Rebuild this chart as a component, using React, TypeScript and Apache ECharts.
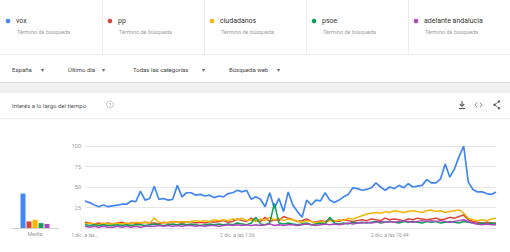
import React, { useEffect, useRef } from "react";
import * as echarts from "echarts";

const terms = ["vox", "pp", "ciudadanos", "psoe", "adelante andalucia"];
const colors = ["#4285f4", "#db4437", "#f4b400", "#0f9d58", "#ab47bc"];
const subLabel = "Término de búsqueda";
const filters = ["España", "Último día", "Todas las categorías", "Búsqueda web"];
const chartTitle = "Interés a lo largo del tiempo";
const xTickLabels = ["1 dic. a las...", "2 dic. a las 1:56", "2 dic. a las 10:44"];
const meanLabel = "Media";

const vox = [
  33, 31, 28, 26, 28, 26, 27, 28, 29, 29,
  33, 32, 45, 34, 36, 51, 35, 36, 34, 35,
  52, 38, 43, 43, 40, 41, 39, 40, 37, 39,
  38, 42, 43, 46, 44, 46, 35, 38, 35, 26,
  43, 24, 36, 20, 44, 28, 20, 13, 34, 28,
  34, 33, 43, 34, 31, 34, 38, 41, 49, 48,
  46, 47, 49, 55, 50, 46, 50, 48, 52, 49,
  54, 50, 51, 52, 59, 55, 55, 60, 78, 62,
  72, 87, 100, 56, 47, 44, 44, 42, 41, 44,
];
const pp = [
  7, 6, 5, 6, 5, 6, 5, 6, 7, 5, 6, 5, 6, 7, 6,
  6, 5, 7, 6, 8, 7, 6, 7, 8, 6, 7, 6, 8, 7, 8,
  9, 7, 8, 11, 9, 8, 12, 9, 8, 13, 8, 10, 9, 14, 12,
  10, 8, 9, 11, 8, 7, 9, 8, 10, 9, 8, 10, 9, 8, 9,
  10, 9, 11, 10, 9, 12, 10, 11, 10, 9, 11, 10, 12, 11, 10,
  11, 12, 10, 11, 13, 12, 14, 16, 10, 8, 7, 6, 7, 6, 6,
];
const ciudadanos = [
  5, 6, 5, 4, 6, 5, 5, 6, 5, 6, 5, 7, 6, 7, 6,
  12, 7, 6, 7, 8, 7, 8, 7, 8, 9, 8, 9, 8, 10, 9,
  10, 9, 11, 10, 12, 9, 10, 8, 11, 9, 13, 10, 12, 9, 11,
  10, 8, 7, 9, 8, 6, 8, 7, 9, 8, 10, 9, 12, 11, 13,
  15, 17, 18, 19, 18, 20, 19, 21, 20, 19, 20, 21, 20, 19, 21,
  22, 20, 21, 19, 20, 21, 22, 18, 12, 10, 9, 10, 9, 11, 12,
];
const psoe = [
  4, 3, 4, 3, 4, 3, 3, 4, 3, 4, 3, 4, 4, 3, 4,
  5, 4, 3, 4, 5, 4, 5, 4, 5, 4, 3, 4, 5, 4, 5,
  4, 5, 4, 6, 5, 4, 6, 13, 5, 4, 6, 30, 6, 5, 6,
  5, 4, 5, 6, 4, 5, 6, 5, 13, 6, 5, 6, 5, 7, 6,
  7, 6, 7, 8, 6, 7, 8, 7, 6, 8, 7, 8, 7, 6, 8,
  7, 8, 6, 7, 8, 7, 6, 8, 7, 6, 5, 6, 5, 6, 5,
];
const adelante = [
  2, 1, 2, 1, 2, 1, 1, 2, 1, 2, 1, 2, 1, 2, 2,
  2, 3, 2, 3, 2, 3, 2, 3, 3, 2, 3, 2, 3, 3, 2,
  3, 4, 3, 4, 3, 4, 3, 4, 3, 4, 5, 3, 4, 3, 4,
  4, 3, 4, 5, 4, 3, 4, 5, 4, 5, 4, 5, 6, 5, 6,
  6, 7, 6, 7, 8, 7, 8, 7, 8, 9, 8, 7, 8, 9, 8,
  9, 8, 9, 8, 7, 8, 9, 10, 8, 6, 5, 4, 5, 4, 4,
];
const means = [42, 8, 10, 6, 5];
const seriesData = [vox, pp, ciudadanos, psoe, adelante];

// time categories: 16-minute steps from 1 dic. 17:08
const times: string[] = [];
for (let i = 0; i < vox.length; i++) {
  const m = 17 * 60 + 8 + i * 16;
  const day = m >= 1440 ? 2 : 1;
  const mm = m % 1440;
  const h = Math.floor(mm / 60);
  const mi = mm % 60;
  times.push(`${day} dic. a las ${h}:${mi < 10 ? "0" + mi : mi}`);
}

const FONT = "Roboto, 'Noto Sans', sans-serif";

export default function App() {
  const ref = useRef<HTMLDivElement>(null);
  useEffect(() => {
    if (!ref.current) return;
    const chart = echarts.init(ref.current, null, { renderer: "svg" });
    const graphics: any[] = [];
    graphics.push({ type: "rect", shape: { x: 0, y: 83, width: 510, height: 10 }, style: { fill: "#f1f1f1" }, silent: true });
    graphics.push({ type: "line", shape: { x1: 0, y1: 82.5, x2: 510, y2: 82.5 }, style: { stroke: "#dcdcdc", lineWidth: 1 } });
    graphics.push({ type: "line", shape: { x1: 0, y1: 54.5, x2: 510, y2: 54.5 }, style: { stroke: "#ececec", lineWidth: 1 } });
    graphics.push({ type: "line", shape: { x1: 0, y1: 118.5, x2: 510, y2: 118.5 }, style: { stroke: "#f0f0f0", lineWidth: 1 } });
    [102, 204, 306, 408].forEach((x) => {
      graphics.push({ type: "line", shape: { x1: x + 0.5, y1: 0, x2: x + 0.5, y2: 54 }, style: { stroke: "#ececec", lineWidth: 1 } });
    });
    terms.forEach((t, k) => {
      const dx = 8 + k * 102;
      graphics.push({ type: "circle", shape: { cx: dx, cy: 21, r: 2.3 }, style: { fill: colors[k] } });
      graphics.push({ type: "text", x: dx + 8, y: 21, style: { text: t, fill: "#333", font: `7px ${FONT}`, verticalAlign: "middle" } });
      graphics.push({ type: "text", x: dx + 9, y: 32, style: { text: subLabel, fill: "#a0a0a0", font: `5.5px ${FONT}`, verticalAlign: "middle" } });
    });
    const fx = [12, 68, 133, 229];
    const ax = [42, 103, 203, 278];
    filters.forEach((f, k) => {
      graphics.push({ type: "text", x: fx[k], y: 69, style: { text: f, fill: "#444", font: `6px ${FONT}`, verticalAlign: "middle" } });
      graphics.push({ type: "text", x: ax[k], y: 69, style: { text: "▾", fill: "#666", font: `6px ${FONT}`, verticalAlign: "middle", align: "center" } });
    });
    graphics.push({ type: "text", x: 12, y: 105, style: { text: chartTitle, fill: "#555", font: `6px ${FONT}`, verticalAlign: "middle" } });
    graphics.push({ type: "circle", shape: { cx: 110, cy: 104.5, r: 3.4 }, style: { fill: "none", stroke: "#aaa", lineWidth: 0.7 } });
    graphics.push({ type: "text", x: 110, y: 104.8, style: { text: "?", fill: "#999", font: `5px ${FONT}`, verticalAlign: "middle", align: "center" } });
    graphics.push({ type: "line", shape: { x1: 462, y1: 101, x2: 462, y2: 106 }, style: { stroke: "#555", lineWidth: 1.1 } });
    graphics.push({ type: "polyline", shape: { points: [[459.8, 104], [462, 106.3], [464.2, 104]] }, style: { stroke: "#555", lineWidth: 1.1, fill: "none" } });
    graphics.push({ type: "line", shape: { x1: 459, y1: 108.5, x2: 465, y2: 108.5 }, style: { stroke: "#555", lineWidth: 1.1 } });
    graphics.push({ type: "polyline", shape: { points: [[477, 102.5], [475, 104.8], [477, 107]] }, style: { stroke: "#777", lineWidth: 0.9, fill: "none" } });
    graphics.push({ type: "polyline", shape: { points: [[480, 102.5], [482, 104.8], [480, 107]] }, style: { stroke: "#777", lineWidth: 0.9, fill: "none" } });
    graphics.push({ type: "polyline", shape: { points: [[499, 101.5], [494.5, 104.8], [499, 108.2]] }, style: { stroke: "#555", lineWidth: 0.8, fill: "none" } });
    [[499, 101.5], [494.5, 104.8], [499, 108.2]].forEach(([cx, cy]) => {
      graphics.push({ type: "circle", shape: { cx, cy, r: 1.2 }, style: { fill: "#555" } });
    });

    const series: any[] = [];
    terms.forEach((t, k) => {
      series.push({
        type: "bar",
        name: t,
        xAxisIndex: 0,
        yAxisIndex: 0,
        data: [means[k]],
        barWidth: 5,
        barGap: "20%",
        itemStyle: { color: colors[k] },
      });
    });
    terms.forEach((t, k) => {
      series.push({
        type: "line",
        name: t,
        xAxisIndex: 1,
        yAxisIndex: 1,
        data: seriesData[k],
        showSymbol: false,
        lineStyle: { color: colors[k], width: k === 0 ? 1.7 : 1.5 },
        itemStyle: { color: colors[k] },
      });
    });

    chart.setOption({
      animation: false,
      backgroundColor: "#ffffff",
      textStyle: { fontFamily: FONT },
      grid: [
        { left: 12, width: 46, top: 146, bottom: 24 },
        { left: 85, right: 14, top: 146, bottom: 24 },
      ],
      xAxis: [
        {
          gridIndex: 0,
          type: "category",
          data: [meanLabel],
          axisLine: { lineStyle: { color: "#d0d0d0" } },
          axisTick: { show: false },
          axisLabel: { fontSize: 5.5, color: "#999", margin: 3 },
        },
        {
          gridIndex: 1,
          type: "category",
          data: times,
          boundaryGap: false,
          axisLine: { show: false },
          axisTick: { show: false },
          axisLabel: {
            interval: 32,
            fontSize: 5,
            color: "#999",
            margin: 4,
            formatter: (_v: string, idx: number) => (idx % 33 === 0 ? xTickLabels[idx / 33] ?? "" : ""),
          },
        },
      ],
      yAxis: [
        { gridIndex: 0, type: "value", min: 0, max: 100, show: false },
        {
          gridIndex: 1,
          type: "value",
          min: 0,
          max: 100,
          interval: 25,
          axisLine: { show: false },
          axisTick: { show: false },
          axisLabel: { showMinLabel: false, fontSize: 5.5, color: "#999", margin: 4 },
          splitLine: { lineStyle: { color: "#e6e6e6", width: 1 } },
        },
      ],
      graphic: graphics,
      series,
    });
    return () => chart.dispose();
  }, []);
  return (
    <div
      ref={ref}
      style={{ position: "fixed", left: 0, top: 0, width: 510, height: 252, background: "#fff" }}
    />
  );
}
